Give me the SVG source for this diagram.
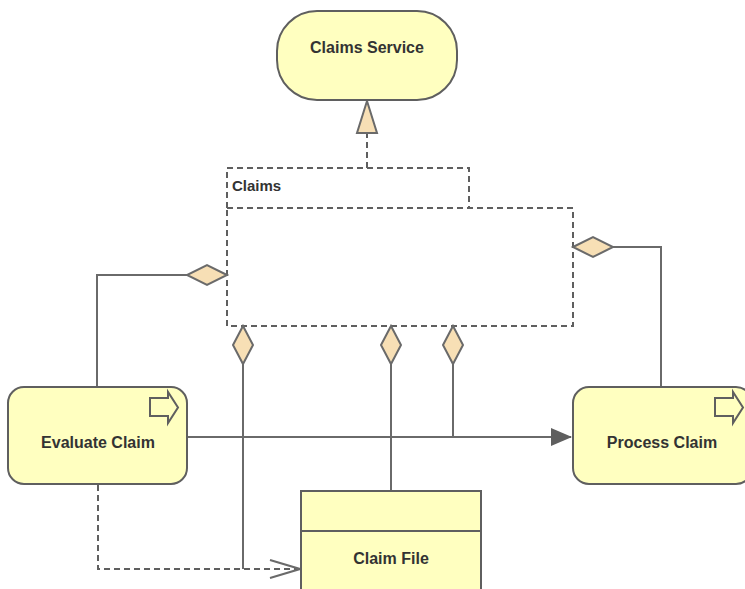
<svg xmlns="http://www.w3.org/2000/svg" width="745" height="589" viewBox="0 0 745 589">
<style>
.node{fill:#FFFFC0;stroke:#5F5F5F;stroke-width:2}
.lbl{font-family:"Liberation Sans",Arial,sans-serif;font-weight:bold;font-size:16px;fill:#333333;text-anchor:middle}
.ln{fill:none;stroke:#6A6A6A;stroke-width:2}
.dash{fill:none;stroke:#5F5F5F;stroke-width:2;stroke-dasharray:6,4}
.dia{fill:#F7DFB5;stroke:#6A6A6A;stroke-width:2}
</style>
<defs>
<marker id="tri" markerWidth="22" markerHeight="20" refX="20" refY="9" orient="auto" markerUnits="userSpaceOnUse"><path d="M0,0 L21,9 L0,18 Z" fill="#5F5F5F"/></marker>
<marker id="open" markerWidth="34" markerHeight="22" refX="31" refY="10" orient="auto" markerUnits="userSpaceOnUse"><path d="M1,1 L31,10 L1,19" fill="none" stroke="#6A6A6A" stroke-width="2"/></marker>
</defs>
<rect width="745" height="589" fill="#FFFFFF"/>
<g id="claims-group">
<path class="dash" d="M227,208 L227,168 L469,168 L469,208"/>
<rect class="dash" x="227" y="208" width="346" height="118"/>
<text x="232" y="191" font-family="Liberation Sans,Arial,sans-serif" font-weight="bold" font-size="15" fill="#333333">Claims</text>
</g>
<g id="connectors">
<path class="dash" d="M367,168 L367,133"/>
<path d="M367,101 L377,133 L357,133 Z" class="dia"/>
<path class="ln" d="M97,387 L97,275 L187,275"/>
<path class="dia" d="M227,275 L207,265 L187,275 L207,285 Z"/>
<path class="ln" d="M661,387 L661,247 L613,247"/>
<path class="dia" d="M573,247 L593,237 L613,247 L593,257 Z"/>
<path class="ln" d="M243,364 L243,569"/>
<path class="dia" d="M243,326 L253,345 L243,364 L233,345 Z"/>
<path class="ln" d="M391,364 L391,491"/>
<path class="dia" d="M391,326 L401,345 L391,364 L381,345 Z"/>
<path class="ln" d="M453,364 L453,437"/>
<path class="dia" d="M453,326 L463,345 L453,364 L443,345 Z"/>
<path class="ln" d="M187,437 L571,437" marker-end="url(#tri)"/>
<path class="dash" d="M98,485 L98,569 L300,569" marker-end="url(#open)"/>
</g>
<g id="claims-service">
<rect class="node" x="277" y="11" width="180" height="89" rx="40" ry="40"/>
<text class="lbl" x="367" y="53">Claims Service</text>
</g>
<g id="evaluate-claim">
<rect class="node" x="8" y="387" width="179" height="97" rx="16" ry="16"/>
<path class="node" d="M150,398 L168,398 L168,392 L178,407.5 L168,423 L168,416 L150,416 Z" stroke-width="1.6"/>
<text class="lbl" x="98" y="448">Evaluate Claim</text>
</g>
<g id="process-claim">
<rect class="node" x="573" y="387" width="179" height="97" rx="16" ry="16"/>
<path class="node" d="M715,398 L733,398 L733,392 L743,407.5 L733,423 L733,416 L715,416 Z" stroke-width="1.6"/>
<text class="lbl" x="662" y="448">Process Claim</text>
</g>
<g id="claim-file">
<rect class="node" x="301" y="491" width="180" height="110"/>
<line x1="301" y1="531" x2="481" y2="531" stroke="#5F5F5F" stroke-width="2"/>
<text class="lbl" x="391" y="564">Claim File</text>
</g>
</svg>
